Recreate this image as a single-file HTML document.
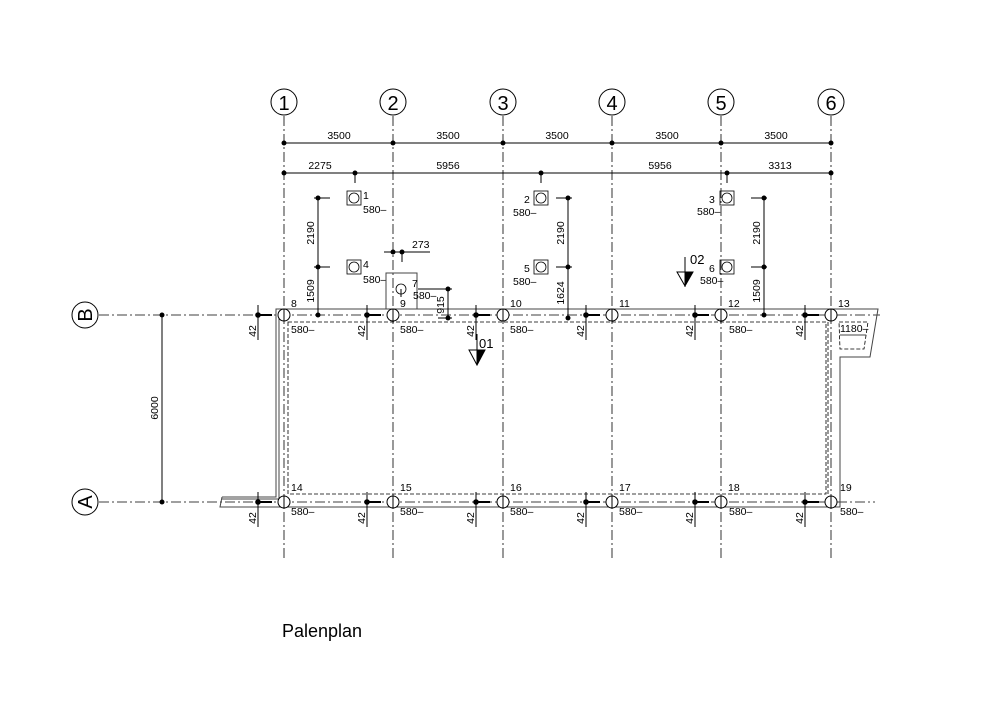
<!DOCTYPE html>
<html><head><meta charset="utf-8"><style>
html,body{margin:0;padding:0;background:#fff}
svg{display:block}
text{font-family:"Liberation Sans",sans-serif;fill:#000}
.t{font-size:10.5px}
.g{stroke:#000;stroke-width:0.8;stroke-dasharray:10 3 2 3;fill:none}
.l{stroke:#000;stroke-width:1;fill:none}
.w{stroke:#444;stroke-width:1;fill:none}
.d{stroke:#000;stroke-width:0.8;stroke-dasharray:4 2;fill:none}
.c{stroke:#000;stroke-width:1;fill:#fff}
</style></head><body>
<svg width="1000" height="718" viewBox="0 0 1000 718" xmlns="http://www.w3.org/2000/svg">
<!-- grid lines vertical -->
<g class="g">
<line x1="284" y1="116" x2="284" y2="560"/>
<line x1="393" y1="116" x2="393" y2="560"/>
<line x1="503" y1="116" x2="503" y2="560"/>
<line x1="612" y1="116" x2="612" y2="560"/>
<line x1="721" y1="116" x2="721" y2="560"/>
<line x1="831" y1="116" x2="831" y2="560"/>
<line x1="99" y1="315" x2="880" y2="315"/>
<line x1="99" y1="502" x2="875" y2="502"/>
</g>
<!-- bubbles -->
<g class="c">
<circle cx="284" cy="102" r="13"/><circle cx="393" cy="102" r="13"/><circle cx="503" cy="102" r="13"/>
<circle cx="612" cy="102" r="13"/><circle cx="721" cy="102" r="13"/><circle cx="831" cy="102" r="13"/>
<circle cx="85" cy="315" r="13"/><circle cx="85" cy="502" r="13"/>
</g>
<g font-size="20" text-anchor="middle">
<text x="284" y="110">1</text><text x="393" y="110">2</text><text x="503" y="110">3</text>
<text x="612" y="110">4</text><text x="721" y="110">5</text><text x="831" y="110">6</text>
<text transform="translate(92,315) rotate(-90)">B</text>
<text transform="translate(92,502) rotate(-90)">A</text>
</g>
<!-- top dims -->
<line class="l" x1="284" y1="143" x2="831" y2="143"/>
<line class="l" x1="284" y1="173" x2="831" y2="173"/>
<g>
<circle cx="284" cy="143" r="2.5"/><circle cx="393" cy="143" r="2.5"/><circle cx="503" cy="143" r="2.5"/>
<circle cx="612" cy="143" r="2.5"/><circle cx="721" cy="143" r="2.5"/><circle cx="831" cy="143" r="2.5"/>
<circle cx="284" cy="173" r="2.5"/><circle cx="355" cy="173" r="2.5"/><circle cx="541" cy="173" r="2.5"/>
<circle cx="727" cy="173" r="2.5"/><circle cx="831" cy="173" r="2.5"/>
</g>
<g class="l"><line x1="355" y1="173" x2="355" y2="183"/><line x1="541" y1="173" x2="541" y2="183"/><line x1="727" y1="173" x2="727" y2="183"/></g>
<g class="t" text-anchor="middle">
<text x="339" y="139">3500</text><text x="448" y="139">3500</text><text x="557" y="139">3500</text>
<text x="667" y="139">3500</text><text x="776" y="139">3500</text>
<text x="320" y="169">2275</text><text x="448" y="169">5956</text><text x="660" y="169">5956</text><text x="780" y="169">3313</text>
</g>
<!-- walls -->
<polyline class="w" points="222,497 276,497 276,309 878,309 870,357 840,357 840,507 220,507 222,497"/>
<polyline class="w" points="222,499 279,499 279,312"/>
<rect class="d" x="288" y="322" width="538" height="172"/>
<polyline class="d" points="828,322 828,496"/>
<polygon class="d" points="839,322 868,322 864,349 840,349"/>
<line class="w" x1="840" y1="335" x2="866" y2="335"/>
<text class="t" x="840" y="332">1180–</text>
<!-- 6000 dim -->
<line class="l" x1="162" y1="315" x2="162" y2="502"/>
<circle cx="162" cy="315" r="2.5"/><circle cx="162" cy="502" r="2.5"/>
<text class="t" transform="translate(158,408) rotate(-90)" text-anchor="middle">6000</text>
<!-- 42 markers row B -->
<g class="l">
<line x1="258" y1="305" x2="258" y2="340"/><line x1="367" y1="305" x2="367" y2="340"/><line x1="476" y1="305" x2="476" y2="340"/>
<line x1="586" y1="305" x2="586" y2="340"/><line x1="695" y1="305" x2="695" y2="340"/><line x1="805" y1="305" x2="805" y2="340"/>
<line x1="258" y1="492" x2="258" y2="527"/><line x1="367" y1="492" x2="367" y2="527"/><line x1="476" y1="492" x2="476" y2="527"/>
<line x1="586" y1="492" x2="586" y2="527"/><line x1="695" y1="492" x2="695" y2="527"/><line x1="805" y1="492" x2="805" y2="527"/>
</g>
<g stroke="#000" stroke-width="2">
<line x1="258" y1="315" x2="272" y2="315"/><line x1="367" y1="315" x2="381" y2="315"/><line x1="476" y1="315" x2="490" y2="315"/>
<line x1="586" y1="315" x2="600" y2="315"/><line x1="695" y1="315" x2="709" y2="315"/><line x1="805" y1="315" x2="819" y2="315"/>
<line x1="258" y1="502" x2="272" y2="502"/><line x1="367" y1="502" x2="381" y2="502"/><line x1="476" y1="502" x2="490" y2="502"/>
<line x1="586" y1="502" x2="600" y2="502"/><line x1="695" y1="502" x2="709" y2="502"/><line x1="805" y1="502" x2="819" y2="502"/>
</g>
<g>
<circle cx="258" cy="315" r="2.8"/><circle cx="367" cy="315" r="2.8"/><circle cx="476" cy="315" r="2.8"/>
<circle cx="586" cy="315" r="2.8"/><circle cx="695" cy="315" r="2.8"/><circle cx="805" cy="315" r="2.8"/>
<circle cx="258" cy="502" r="2.8"/><circle cx="367" cy="502" r="2.8"/><circle cx="476" cy="502" r="2.8"/>
<circle cx="586" cy="502" r="2.8"/><circle cx="695" cy="502" r="2.8"/><circle cx="805" cy="502" r="2.8"/>
</g>
<g class="t" text-anchor="middle">
<text transform="translate(256,331) rotate(-90)">42</text><text transform="translate(365,331) rotate(-90)">42</text>
<text transform="translate(474,331) rotate(-90)">42</text><text transform="translate(584,331) rotate(-90)">42</text>
<text transform="translate(693,331) rotate(-90)">42</text><text transform="translate(803,331) rotate(-90)">42</text>
<text transform="translate(256,518) rotate(-90)">42</text><text transform="translate(365,518) rotate(-90)">42</text>
<text transform="translate(474,518) rotate(-90)">42</text><text transform="translate(584,518) rotate(-90)">42</text>
<text transform="translate(693,518) rotate(-90)">42</text><text transform="translate(803,518) rotate(-90)">42</text>
</g>
<!-- piles on grid -->
<g class="c">
<circle cx="284" cy="315" r="6"/><circle cx="393" cy="315" r="6"/><circle cx="503" cy="315" r="6"/>
<circle cx="612" cy="315" r="6"/><circle cx="721" cy="315" r="6"/><circle cx="831" cy="315" r="6"/>
<circle cx="284" cy="502" r="6"/><circle cx="393" cy="502" r="6"/><circle cx="503" cy="502" r="6"/>
<circle cx="612" cy="502" r="6"/><circle cx="721" cy="502" r="6"/><circle cx="831" cy="502" r="6"/>
</g>
<g class="l">
<line x1="284" y1="309" x2="284" y2="321"/><line x1="393" y1="309" x2="393" y2="321"/><line x1="503" y1="309" x2="503" y2="321"/>
<line x1="612" y1="309" x2="612" y2="321"/><line x1="721" y1="309" x2="721" y2="321"/><line x1="831" y1="309" x2="831" y2="321"/>
<line x1="284" y1="496" x2="284" y2="508"/><line x1="393" y1="496" x2="393" y2="508"/><line x1="503" y1="496" x2="503" y2="508"/>
<line x1="612" y1="496" x2="612" y2="508"/><line x1="721" y1="496" x2="721" y2="508"/><line x1="831" y1="496" x2="831" y2="508"/>
</g>
<g class="t">
<text x="291" y="307">8</text><text x="400" y="307">9</text><text x="510" y="307">10</text><text x="619" y="307">11</text><text x="728" y="307">12</text><text x="838" y="307">13</text>
<text x="291" y="491">14</text><text x="400" y="491">15</text><text x="510" y="491">16</text><text x="619" y="491">17</text><text x="728" y="491">18</text><text x="840" y="491">19</text>
<text x="291" y="333">580–</text><text x="400" y="333">580–</text><text x="510" y="333">580–</text><text x="729" y="333">580–</text>
<text x="291" y="515">580–</text><text x="400" y="515">580–</text><text x="510" y="515">580–</text><text x="619" y="515">580–</text><text x="729" y="515">580–</text><text x="840" y="515">580–</text>
</g>
<!-- top piles -->
<g fill="none" stroke="#000" stroke-width="0.8">
<rect x="347" y="191" width="14" height="14"/><circle cx="354" cy="198" r="5"/>
<rect x="347" y="260" width="14" height="14"/><circle cx="354" cy="267" r="5"/>
<rect x="534" y="191" width="14" height="14"/><circle cx="541" cy="198" r="5"/>
<rect x="534" y="260" width="14" height="14"/><circle cx="541" cy="267" r="5"/>
<rect x="720" y="191" width="14" height="14"/><circle cx="727" cy="198" r="5"/>
<rect x="720" y="260" width="14" height="14"/><circle cx="727" cy="267" r="5"/>
</g>
<g class="t">
<text x="363" y="199">1</text><text x="363" y="213">580–</text>
<text x="363" y="268">4</text><text x="363" y="283">580–</text>
<text x="524" y="203">2</text><text x="513" y="216">580–</text>
<text x="524" y="272">5</text><text x="513" y="285">580–</text>
<text x="709" y="203">3</text><text x="697" y="215">580–</text>
<text x="709" y="272">6</text><text x="700" y="284">580–</text>
</g>
<!-- vertical dims -->
<g class="l">
<line x1="318" y1="198" x2="318" y2="315"/><line x1="314" y1="198" x2="330" y2="198"/><line x1="314" y1="267" x2="330" y2="267"/>
<line x1="568" y1="198" x2="568" y2="315"/><line x1="556" y1="198" x2="572" y2="198"/><line x1="556" y1="267" x2="572" y2="267"/>
<line x1="764" y1="198" x2="764" y2="315"/><line x1="751" y1="198" x2="767" y2="198"/><line x1="751" y1="267" x2="767" y2="267"/>
</g>
<g>
<circle cx="318" cy="198" r="2.5"/><circle cx="318" cy="267" r="2.5"/><circle cx="318" cy="315" r="2.5"/>
<circle cx="568" cy="198" r="2.5"/><circle cx="568" cy="267" r="2.5"/><circle cx="568" cy="318" r="2.5"/>
<circle cx="764" cy="198" r="2.5"/><circle cx="764" cy="267" r="2.5"/><circle cx="764" cy="315" r="2.5"/>
</g>
<g class="t" text-anchor="middle">
<text transform="translate(314,233) rotate(-90)">2190</text><text transform="translate(314,291) rotate(-90)">1509</text>
<text transform="translate(564,233) rotate(-90)">2190</text><text transform="translate(564,293) rotate(-90)">1624</text>
<text transform="translate(760,233) rotate(-90)">2190</text><text transform="translate(760,291) rotate(-90)">1509</text>
</g>
<!-- pile 7 -->
<polyline class="w" points="386,309 386,273 417,273 417,309"/>
<circle cx="401" cy="289" r="5" fill="none" stroke="#000" stroke-width="0.8"/>
<line class="l" x1="401" y1="289" x2="401" y2="297"/>
<text class="t" x="412" y="287">7</text><text class="t" x="413" y="299">580–</text>
<line class="l" x1="384" y1="252" x2="430" y2="252"/><line class="l" x1="402" y1="252" x2="402" y2="262"/>
<circle cx="393" cy="252" r="2.5"/><circle cx="402" cy="252" r="2.5"/>
<text class="t" x="412" y="248">273</text>
<line class="l" x1="418" y1="289" x2="452" y2="289"/><line class="l" x1="448" y1="289" x2="448" y2="318"/>
<line class="l" x1="438" y1="318" x2="452" y2="318"/>
<circle cx="448" cy="289" r="2.5"/><circle cx="448" cy="318" r="2.5"/>
<text class="t" transform="translate(444,305) rotate(-90)" text-anchor="middle">915</text>
<!-- section markers -->
<line class="l" x1="477" y1="334" x2="477" y2="365"/>
<polygon points="469,350 485,350 477,365" fill="none" stroke="#000"/>
<polygon points="477,350 485,350 477,365" fill="#000"/>
<text x="479" y="348" font-size="13">01</text>
<line class="l" x1="685" y1="257" x2="685" y2="287"/>
<polygon points="677,272 693,272 685,286" fill="none" stroke="#000"/>
<polygon points="685,272 693,272 685,286" fill="#000"/>
<text x="690" y="264" font-size="13">02</text>
<text x="282" y="637" font-size="18">Palenplan</text>
</svg>
</body></html>
